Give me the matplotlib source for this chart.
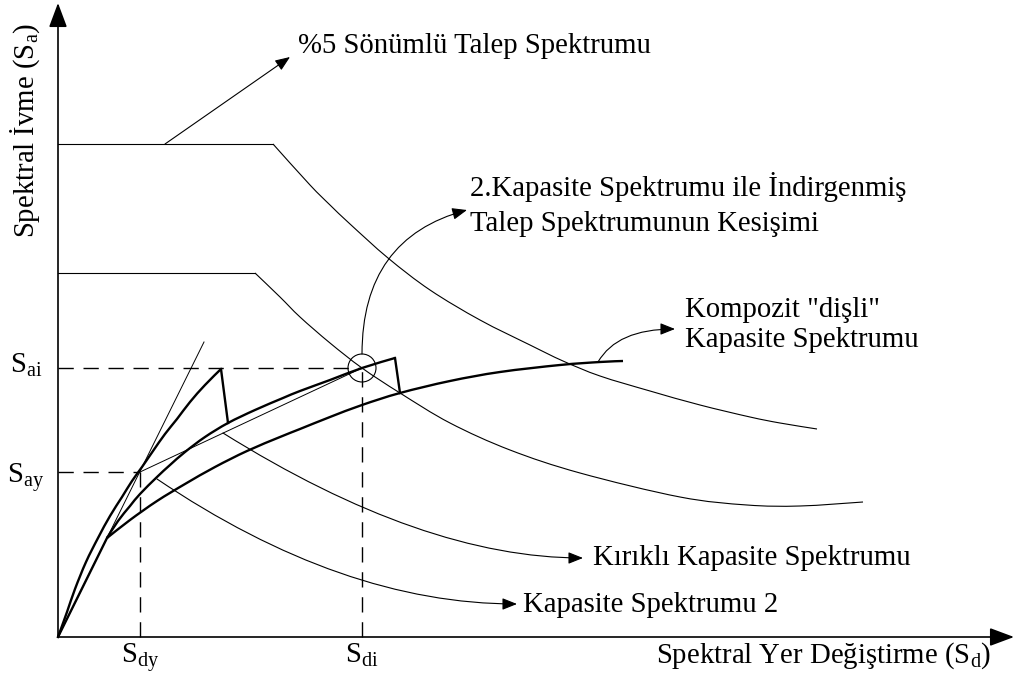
import numpy as np
import matplotlib
matplotlib.use("Agg")
from matplotlib import pyplot as plt
from matplotlib.patches import Circle, PathPatch
from matplotlib.path import Path

plt.rcParams['font.family'] = ['Liberation Serif', 'DejaVu Serif']
plt.rcParams['mathtext.fontset'] = 'custom'
plt.rcParams['mathtext.rm'] = 'Liberation Serif'
plt.rcParams['mathtext.it'] = 'Liberation Serif:italic'

# schematic ADRS values (Sd, Sa) in drawing units, origin at axis corner
demand5_sd = [0, 215, 252, 272, 292, 330, 372, 422, 472, 505, 542, 592, 642, 692, 722, 759]
demand5_sa = [493, 493, 452, 432, 413, 379, 347, 317, 292, 276, 261, 246, 232, 220, 214, 208]

reduced_sd = [0, 197, 222, 242, 272, 304, 342, 392, 452, 522, 622, 689, 742, 805]
reduced_sa = [364, 364, 340, 320, 294, 269, 244, 214, 187, 164, 140, 132, 131, 135]

cap1_sd = [0, 9, 17, 28, 40, 52, 64, 74, 84, 95, 107, 119, 132, 147, 163, 170]
cap1_sa = [0, 25, 48, 75, 99, 121, 140, 156, 170, 186, 203, 218, 235, 252, 268, 214]

cap2_sd = [0, 49, 60, 72, 82, 99, 112, 127, 147, 170, 197, 225, 242, 272, 304, 337, 342]
cap2_sa = [0, 99, 116, 131, 143, 160, 172, 185, 200, 214, 227, 239, 246, 257, 269, 279, 244]

cap3_sd = [49, 72, 99, 127, 157, 189, 222, 242, 272, 304, 342, 392, 442, 502, 542, 565]
cap3_sa = [99, 117, 136, 153, 170, 186, 200, 208, 220, 232, 244, 256, 265, 272, 275, 276]

tangent_sd = [0, 146]
tangent_sa = [0, 295]

bilinear_sd = [82, 304]
bilinear_sa = [165, 269]

sdy, say = 82, 165
sdi, sai = 304, 269

fs = 20.7
fig = plt.figure(figsize=(10.16, 6.79), dpi=100)
ax = fig.add_axes([0, 0, 1, 1])
ax.set_xlim(-58, 958)
ax.set_ylim(-42, 637)
ax.axis('off')


def smooth(xs, ys, lw):
    # draw a smooth bezier curve through the read points
    pts = np.column_stack([xs, ys]).astype(float)
    n = len(pts)
    verts = [pts[0]]
    codes = [Path.MOVETO]
    for i in range(n - 1):
        p0 = pts[max(i - 1, 0)]
        p1 = pts[i]
        p2 = pts[i + 1]
        p3 = pts[min(i + 2, n - 1)]
        verts += [p1 + (p2 - p0) / 6, p2 - (p3 - p1) / 6, p2]
        codes += [Path.CURVE4] * 3
    ax.add_patch(PathPatch(Path(verts, codes), fill=False, lw=lw,
                           edgecolor='k', capstyle='butt', joinstyle='round'))


# axes with arrows
axis_arrow = dict(arrowstyle='-|>,head_length=0.75,head_width=0.28', color='k',
                  lw=1.2, shrinkA=0, shrinkB=0, mutation_scale=20)
ax.annotate('', xy=(0, 634), xytext=(0, 0), arrowprops=axis_arrow)
ax.annotate('', xy=(956, 0), xytext=(0, 0), arrowprops=axis_arrow)

thin = 0.8
thick = 1.7

# demand spectra
ax.plot(demand5_sd[:2], demand5_sa[:2], color='k', lw=thin)
smooth(demand5_sd[1:], demand5_sa[1:], thin)
ax.plot(reduced_sd[:2], reduced_sa[:2], color='k', lw=thin)
smooth(reduced_sd[1:], reduced_sa[1:], thin)

# capacity spectra
smooth(cap1_sd[:-1], cap1_sa[:-1], thick)
ax.plot(cap1_sd[-2:], cap1_sa[-2:], color='k', lw=thick)
ax.plot(cap2_sd[:2], cap2_sa[:2], color='k', lw=thick)
smooth(cap2_sd[1:-1], cap2_sa[1:-1], thick)
ax.plot(cap2_sd[-2:], cap2_sa[-2:], color='k', lw=thick)
smooth(cap3_sd, cap3_sa, thick)
ax.plot(tangent_sd, tangent_sa, color='k', lw=0.7)
ax.plot(bilinear_sd, bilinear_sa, color='k', lw=0.7)

# dashed guides
dash = dict(color='k', lw=1.0, linestyle=(0, (11, 7)))
ax.plot([0, sdi], [sai, sai], **dash)
ax.plot([0, sdy], [say, say], **dash)
ax.plot([sdy, sdy], [0, say], **dash)
ax.plot([sdi, sdi], [0, sai], **dash)

ax.add_patch(Circle((sdi, sai), 14, fill=False, lw=0.8, color='k'))

# labels on axes
ax.text(-32, 264, r'S$_{\rm ai}$', fontsize=fs, ha='center', va='baseline')
ax.text(-32, 154, r'S$_{\rm ay}$', fontsize=fs, ha='center', va='baseline')
ax.text(sdy, -26, r'S$_{\rm dy}$', fontsize=fs, ha='center', va='baseline')
ax.text(sdi, -26, r'S$_{\rm di}$', fontsize=fs, ha='center', va='baseline')
ax.text(598, -26, r'Spektral Yer Değiştirme (S$_{\rm d}$)', fontsize=fs, va='baseline')
ax.text(-33, 507, r'Spektral İvme (S$_{\rm a}$)', fontsize=fs, rotation=90,
        ha='center', va='center')


# annotations
def pointer(start, tip, conn='arc3,rad=0'):
    ax.annotate('', xy=tip, xytext=start,
                arrowprops=dict(arrowstyle='-|>,head_length=0.45,head_width=0.18',
                                connectionstyle=conn, color='k', lw=0.8,
                                shrinkA=0, shrinkB=0, mutation_scale=20))


pointer((107, 493), (232, 580))
ax.text(240, 584, '%5 Sönümlü Talep Spektrumu', fontsize=fs, va='baseline')

pointer((sdi, sai + 14), (409, 427), 'angle3,angleA=90,angleB=15')
ax.text(412, 441, '2.Kapasite Spektrumu ile İndirgenmiş', fontsize=fs, va='baseline')
ax.text(412, 406, 'Talep Spektrumunun Kesişimi', fontsize=fs, va='baseline')

pointer((540, 275), (617, 308), 'angle3,angleA=60,angleB=0')
ax.text(627, 320, 'Kompozit "dişli"', fontsize=fs, va='baseline')
ax.text(627, 290, 'Kapasite Spektrumu', fontsize=fs, va='baseline')

pointer((165, 204), (525, 79), 'angle3,angleA=-32,angleB=0')
ax.text(535, 72, 'Kırıklı Kapasite Spektrumu', fontsize=fs, va='baseline')

pointer((99, 158), (459, 33), 'angle3,angleA=-34,angleB=0')
ax.text(465, 25, 'Kapasite Spektrumu 2', fontsize=fs, va='baseline')

fig.savefig('out.png', dpi=100, facecolor='white')
